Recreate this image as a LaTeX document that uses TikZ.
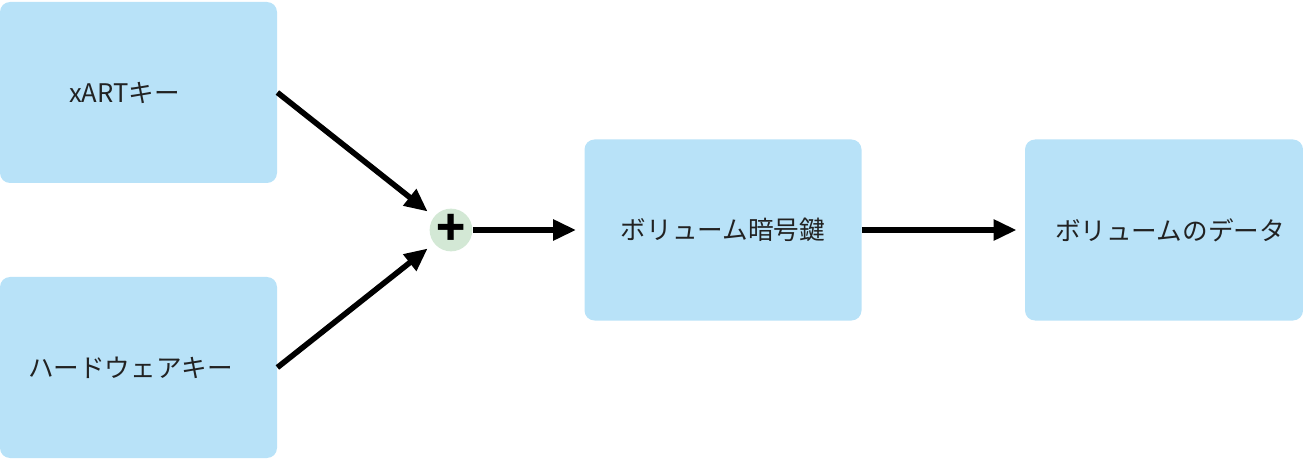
\documentclass[tikz,border=0pt]{standalone}
\usepackage{fontspec}
\setmainfont{Noto Sans CJK JP}
\usepackage{tikz}
\usetikzlibrary{positioning,arrows.meta}
\definecolor{keyblue}{HTML}{B8E2F8}
\definecolor{sumgreen}{HTML}{D3E8D5}
\definecolor{txtgray}{HTML}{222222}

\begin{document}
\begin{tikzpicture}[x=0.5pt,y=-0.5pt,
  box/.style={fill=keyblue,rounded corners=5pt,minimum width=138.5pt,minimum height=90.5pt,
    inner sep=0pt,text=txtgray,font=\fontsize{12.8}{15}\selectfont},
  flow/.style={-{Triangle[length=11.5pt,width=10pt]},line width=2.8pt,shorten >=4pt}]
\useasboundingbox (0,0) rectangle (1303,460);

% key sources
\node[box] (xart) at (138.5,92.5) {xARTキー\kern14pt};
\node[box] (hwkey) at (138.5,367.5) {ハードウェアキー\kern8pt};

% combine
\node[circle,fill=sumgreen,minimum size=20.5pt,inner sep=0pt,
  font=\fontsize{24}{24}\selectfont\bfseries] (sum) at (451,230) {+};

% results
\node[box] (volkey) at (723,230) {ボリューム暗号鍵};
\node[box,minimum width=139pt] (voldata) at (1164,230) {\kern6pt ボリュームのデータ};

\draw[flow] (xart.east) -- (sum);
\draw[flow] (hwkey.east) -- (sum);
\draw[flow] (sum) -- (volkey);
\draw[flow] (volkey) -- (voldata);
\end{tikzpicture}
\end{document}
